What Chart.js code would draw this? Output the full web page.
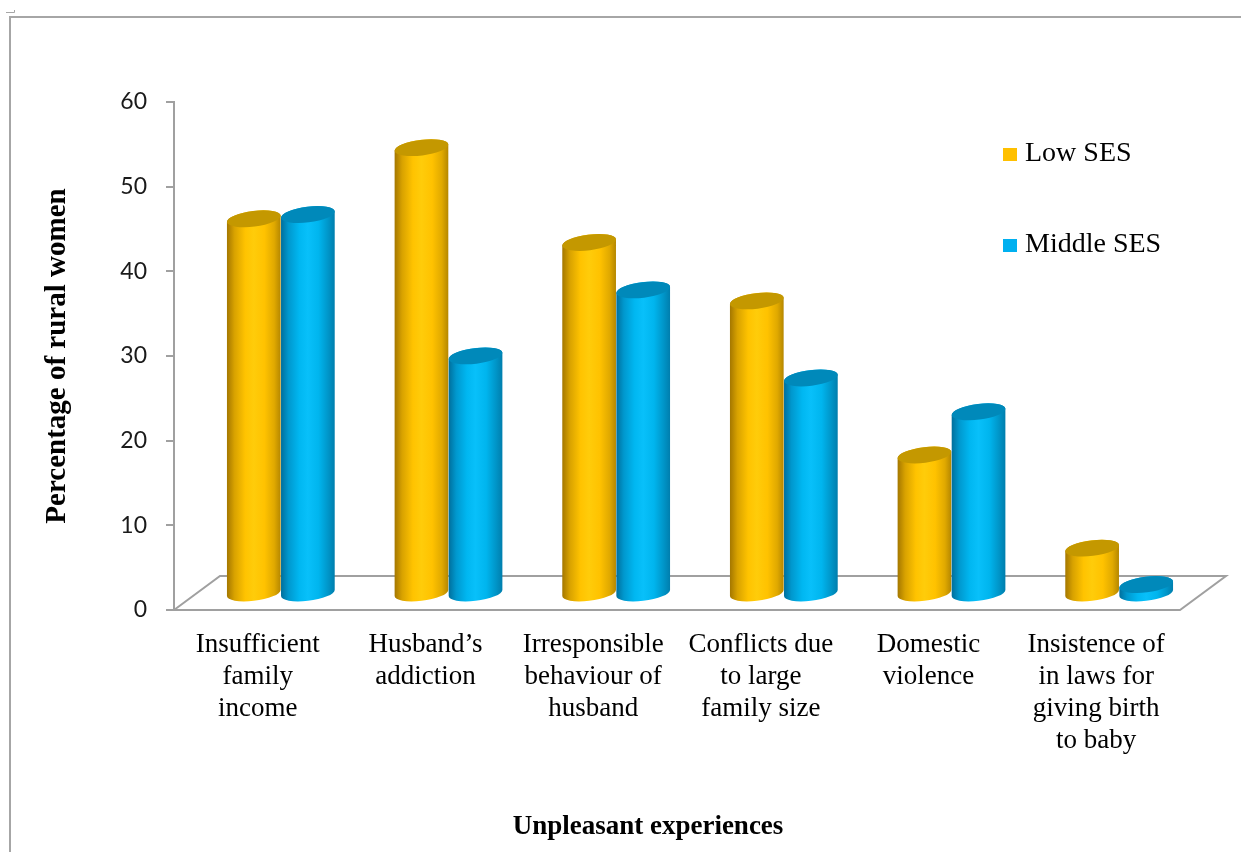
<!DOCTYPE html>
<html>
<head>
<meta charset="utf-8">
<script src="https://cdn.jsdelivr.net/npm/chart.js@4.4.1/dist/chart.umd.min.js"></script>
<style>
  html, body { margin: 0; padding: 0; background: #fff; }
  canvas { display: block; }
</style>
</head>
<body>
<canvas id="chart" width="1241" height="852"></canvas>
<script>
// ---- data ----
const categories = [
  ['Insufficient', 'family', 'income'],
  ['Husband\u2019s', 'addiction'],
  ['Irresponsible', 'behaviour of', 'husband'],
  ['Conflicts due', 'to large', 'family size'],
  ['Domestic', 'violence'],
  ['Insistence of', 'in laws for', 'giving birth', 'to baby']
];
const seriesNames = ['Low SES', 'Middle SES'];
const lowSES    = [44.2, 52.6, 41.4, 34.5, 16.3, 5.3];
const middleSES = [44.7, 28.0, 35.8, 25.4, 21.4, 1.0];
const yMin = 0, yMax = 60, yStep = 10;
const xTitle = 'Unpleasant experiences';
const yTitle = 'Percentage of rural women';

// ---- styling ----
const SERIF = '"Liberation Serif", "Times New Roman", serif';
const DEPTH_X = 46, DEPTH_Y = -34;   // oblique depth of the floor
const TILT = -0.125;                 // rotation of cylinder end caps
const CAP_RY = 7.8;
const palettes = [
  { key: '#FFC000', top: '#C49800',
    side: [[0, '#A47700'], [0.14, '#D8A200'], [0.34, '#FFC300'], [0.5, '#FFCC0A'],
           [0.7, '#FFC200'], [0.88, '#E0A900'], [1, '#B58700']] },
  { key: '#00B0F0', top: '#0089BA',
    side: [[0, '#006F9C'], [0.14, '#0098CE'], [0.34, '#00B7F1'], [0.5, '#08C0FA'],
           [0.7, '#00B5EE'], [0.88, '#0095C8'], [1, '#007EAD']] }
];

function drawCylinder(ctx, cx, yTop, yBase, rx, ry, pal) {
  const t0 = Math.atan2(-ry * Math.sin(TILT), rx * Math.cos(TILT));
  const ext = Math.sqrt(rx * rx * Math.cos(TILT) ** 2 + ry * ry * Math.sin(TILT) ** 2);
  const g = ctx.createLinearGradient(cx - ext, 0, cx + ext, 0);
  pal.side.forEach(([o, c]) => g.addColorStop(o, c));
  ctx.beginPath();
  ctx.ellipse(cx, yBase, rx, ry, TILT, t0, t0 + Math.PI, false);
  ctx.ellipse(cx, yTop, rx, ry, TILT, t0 + Math.PI, t0 + 2 * Math.PI, false);
  ctx.closePath();
  ctx.fillStyle = g;
  ctx.fill();
  ctx.beginPath();
  ctx.ellipse(cx, yTop, rx, ry, TILT, 0, 2 * Math.PI);
  ctx.fillStyle = pal.top;
  ctx.fill();
}

// page frame
const framePlugin = {
  id: 'frame',
  beforeDraw(chart) {
    const ctx = chart.ctx;
    ctx.save();
    ctx.fillStyle = '#fff';
    ctx.fillRect(0, 0, chart.width, chart.height);
    ctx.strokeStyle = '#A6A6A6';
    ctx.lineWidth = 2;
    ctx.beginPath();
    ctx.moveTo(10, chart.height);
    ctx.lineTo(10, 17);
    ctx.lineTo(chart.width, 17);
    ctx.stroke();
    ctx.lineWidth = 1;
    ctx.beginPath();
    ctx.moveTo(6, 12.5);
    ctx.lineTo(14.5, 12.5);
    ctx.lineTo(14.5, 10);
    ctx.stroke();
    ctx.restore();
  }
};

// 3-D floor and cylinder columns
const cylinderPlugin = {
  id: 'cylinders',
  beforeDatasetsDraw(chart) {
    const { ctx, chartArea: a } = chart;
    const y = chart.scales.y;
    const y0 = y.getPixelForValue(0);
    ctx.save();
    ctx.beginPath();
    ctx.moveTo(a.left, y0);
    ctx.lineTo(a.left + DEPTH_X, y0 + DEPTH_Y);
    ctx.lineTo(a.right + DEPTH_X, y0 + DEPTH_Y);
    ctx.lineTo(a.right, y0);
    ctx.closePath();
    ctx.fillStyle = '#fff';
    ctx.fill();
    ctx.strokeStyle = '#A0A0A0';
    ctx.lineWidth = 2;
    ctx.stroke();

    const n = chart.data.labels.length;
    for (let i = 0; i < n; i++) {
      chart.data.datasets.forEach((ds, d) => {
        const el = chart.getDatasetMeta(d).data[i];
        const cx = el.x + DEPTH_X / 2;
        const yTop = y.getPixelForValue(ds.data[i]) + DEPTH_Y / 2;
        const yBase = y0 + DEPTH_Y / 2;
        drawCylinder(ctx, cx, yTop, yBase, el.width / 2, CAP_RY, palettes[d]);
      });
    }
    ctx.restore();
    return false;
  }
};

// axis title under the categories and the legend keys
const textPlugin = {
  id: 'texts',
  afterDraw(chart) {
    const ctx = chart.ctx;
    ctx.save();
    ctx.fillStyle = '#000';
    ctx.font = 'bold 27px ' + SERIF;
    ctx.textAlign = 'center';
    ctx.textBaseline = 'alphabetic';
    ctx.fillText(xTitle, 648, 834);

    ctx.font = '28px ' + SERIF;
    ctx.textAlign = 'left';
    chart.data.datasets.forEach((ds, d) => {
      const base = 161 + d * 91;
      ctx.fillStyle = ds.backgroundColor;
      ctx.fillRect(1003, base - 13, 14, 13);
      ctx.fillStyle = '#000';
      ctx.fillText(ds.label, 1025, base);
    });
    ctx.restore();
  }
};

new Chart(document.getElementById('chart'), {
  type: 'bar',
  data: {
    labels: categories,
    datasets: [
      { label: seriesNames[0], data: lowSES, backgroundColor: palettes[0].key },
      { label: seriesNames[1], data: middleSES, backgroundColor: palettes[1].key }
    ]
  },
  options: {
    responsive: false,
    animation: false,
    devicePixelRatio: 1,
    layout: { padding: { left: 0, right: 61, top: 102, bottom: 0 } },
    datasets: { bar: { categoryPercentage: 0.645, barPercentage: 1.0 } },
    plugins: { legend: { display: false }, tooltip: { enabled: false } },
    scales: {
      x: {
        offset: true,
        grid: { display: false },
        border: { display: false },
        ticks: {
          autoSkip: false, maxRotation: 0, minRotation: 0, padding: 11,
          color: '#000',
          font: { family: SERIF, size: 27, lineHeight: 1.18 }
        },
        afterFit(scale) { scale.height = 242; }
      },
      y: {
        min: yMin, max: yMax,
        grid: { display: true, drawOnChartArea: false, drawTicks: true, tickLength: 8,
                color: '#A0A0A0', lineWidth: 2 },
        border: { display: true, color: '#A0A0A0', width: 2 },
        ticks: { stepSize: yStep, padding: 19, color: '#1A1A1A',
                 font: { family: 'Lato, "Open Sans", sans-serif', size: 23 } },
        title: { display: true, text: yTitle, color: '#000',
                 font: { family: SERIF, size: 29, weight: 'bold' },
                 padding: { top: 40, bottom: 0 } },
        afterFit(scale) { scale.width = 174; }
      }
    }
  },
  plugins: [framePlugin, cylinderPlugin, textPlugin]
});
</script>
</body>
</html>
